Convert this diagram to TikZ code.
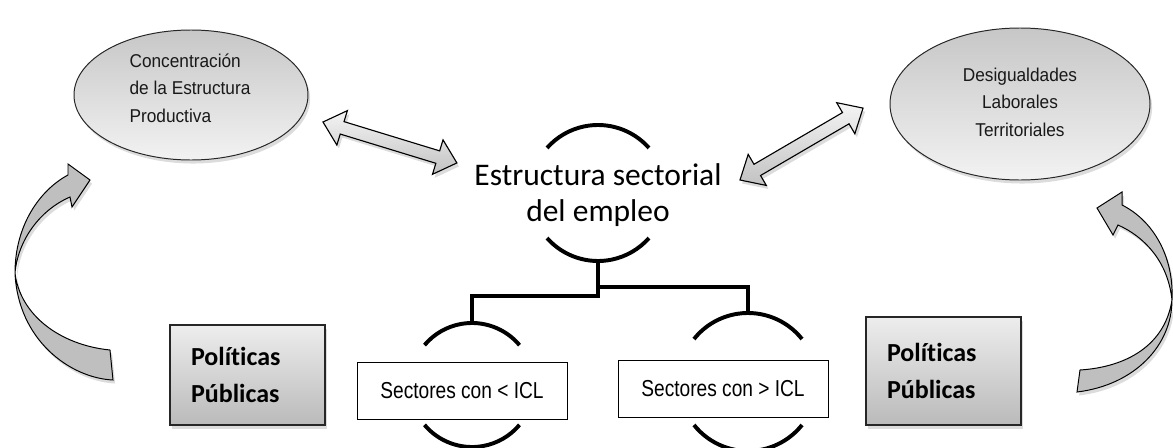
\documentclass[tikz,border=0pt]{standalone}
\usepackage{fontspec}
\newfontfamily\arialf[FakeStretch=0.93]{Liberation Sans}
\newfontfamily\arialn[FakeStretch=0.83]{Liberation Sans}
\newfontfamily\calib[Ligatures=CommonOff]{Carlito}
\usetikzlibrary{shapes.geometric,shadows,calc}
\begin{document}
\begin{tikzpicture}[x=0.025cm,y=-0.025cm,
  shad/.style={drop shadow={opacity=0.28,shadow xshift=1.5pt,shadow yshift=-2.5pt}},
  ell/.style={ellipse,draw=black!85,line width=0.7pt,top color=black!22,bottom color=black!5,shad,inner sep=0pt},
  elltxt/.style={font=\arialf\fontsize{13.2}{19.6}\selectfont,text=black!90,inner sep=0pt},
  pol/.style={rectangle,draw=black!85,line width=1pt,top color=black!7,bottom color=black!27,shad,
    text width=113*0.025cm,inner xsep=21*0.025cm,inner ysep=0pt,minimum width=155*0.025cm,align=left,
    font=\calib\bfseries\fontsize{18.5}{26.5}\selectfont},
  sec/.style={rectangle,draw=black,line width=0.6pt,fill=white,minimum width=210*0.025cm,minimum height=57*0.025cm,
    inner sep=0pt,font=\arialn\fontsize{16.4}{18}\selectfont},
  dbl/.style={draw=black,line width=0.8pt,top color=black!4,bottom color=black!24,shad,line join=miter},
  carr/.style={draw=black,line width=0.7pt,fill=black!25,shad,line join=miter},
  conn/.style={line width=2.8pt,line join=miter},
  arcline/.style={line width=2.8pt}]
\useasboundingbox (0,0) rectangle (1173,448);

% ellipses
\node[ell,minimum width=234*0.025cm,minimum height=130*0.025cm] (conc) at (191,95) {};
\node[elltxt,align=left] (conctxt) at (190,88) {Concentración\\de la Estructura\\Productiva};
\node[ell,minimum width=260*0.025cm,minimum height=152*0.025cm] (desig) at (1020,104) {};
\node[elltxt,align=center] (desigtxt) at (1020,102) {Desigualdades\\Laborales\\Territoriales};

% central text and arcs
\node[font=\calib\fontsize{22.4}{25.6}\selectfont,align=center,inner sep=0pt] (est) at (598,195) {Estructura sectorial\\del empleo};
\coordinate (cc) at (598,193);
\draw[arcline] ([shift={(41.5:1.7cm)}]cc) arc[start angle=41.5,end angle=138.5,radius=1.7cm];
\draw[arcline] ([shift={(221.5:1.7cm)}]cc) arc[start angle=221.5,end angle=318.5,radius=1.7cm];

% sector boxes and arcs
\node[sec] (low) at (462,390.5) {Sectores con < ICL};
\node[sec] (high) at (723,388.5) {Sectores con > ICL};
\coordinate (lc) at (472,385);
\coordinate (rc) at (748,382);
\draw[arcline] ([shift={(40:1.55cm)}]lc) arc[start angle=40,end angle=140,radius=1.55cm];
\draw[arcline] ([shift={(220:1.55cm)}]lc) arc[start angle=220,end angle=320,radius=1.55cm];
\draw[arcline] ([shift={(38.5:1.725cm)}]rc) arc[start angle=38.5,end angle=141.5,radius=1.725cm];
\draw[arcline] ([shift={(218.5:1.725cm)}]rc) arc[start angle=218.5,end angle=321.5,radius=1.725cm];

% connectors
\coordinate (cbot) at ($(cc)+(270:1.7cm)$);
\coordinate (ltop) at ($(lc)+(90:1.55cm)$);
\coordinate (rtop) at ($(rc)+(90:1.725cm)$);
\draw[conn] (cbot) -- ++(0,35) -| (ltop);
\draw[conn] (cbot) -- ++(0,26) -| (rtop);

% politicas boxes
\node[pol,minimum height=100*0.025cm] (pol1) at (247.5,375) {Políticas\\Públicas};
\node[pol,minimum height=108*0.025cm] (pol2) at (943.5,371) {Políticas\\Públicas};

% double arrows
\begin{scope}[shift={(323,122)},rotate=-17]
\draw[dbl] (0,0) -- (20,-18) -- (20,-6.5) -- (120,-6.5) -- (120,-18) -- (140,0) -- (120,18) -- (120,6.5) -- (20,6.5) -- (20,18) -- cycle;
\end{scope}
\begin{scope}[shift={(740,180)},rotate=30.3]
\draw[dbl] (0,0) -- (20,-18) -- (20,-6.5) -- (122.5,-6.5) -- (122.5,-18) -- (142.5,0) -- (122.5,18) -- (122.5,6.5) -- (20,6.5) -- (20,18) -- cycle;
\end{scope}

% curved arrows
\draw[carr] (110,350) .. controls (60,345) and (20,315) .. (15,273)
  .. controls (15,225) and (40,190) .. (68,175) -- (68,164) -- (90,180) -- (72,207) -- (70,197)
  .. controls (40,210) and (18,240) .. (15,273)
  .. controls (18,340) and (70,378) .. (113,380) -- cycle;
\draw[carr] (1080,370) .. controls (1127,367) and (1165,345) .. (1172,300)
  .. controls (1174,255) and (1152,220) .. (1122,205) -- (1122,192) -- (1097,208) -- (1113,235) -- (1118,225)
  .. controls (1145,237) and (1168,262) .. (1172,300)
  .. controls (1172,345) and (1135,385) .. (1077,392) -- cycle;
\end{tikzpicture}
\end{document}
